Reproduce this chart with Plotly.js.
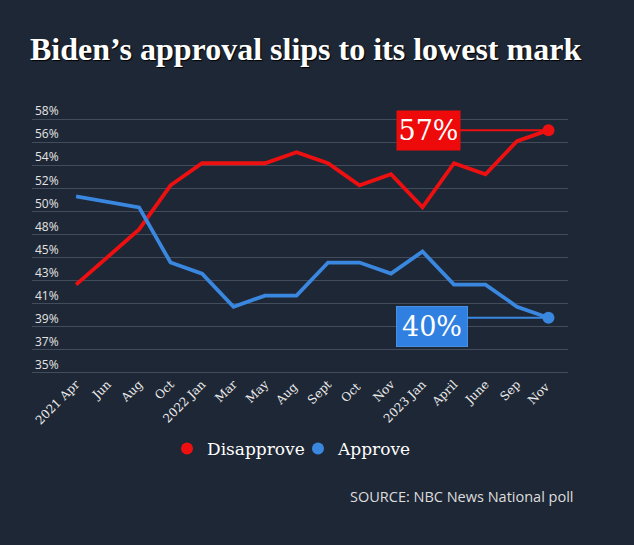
<!DOCTYPE html>
<html><head><meta charset="utf-8">
<script src="https://cdn.plot.ly/plotly-3.0.1.min.js"></script>
<style>html,body{margin:0;padding:0;background:#1e2735;}</style>
</head><body><div id="chart" style="width:634px;height:545px;"></div>
<script>
const months = ["2021 Apr","Jun","Aug","Oct","2022 Jan","Mar","May","Aug ","Sept","Oct ","Nov","2023 Jan","April","June","Sep","Nov "];
const disapprove = [43,45.5,48,52,54,54,54,55,54,52,53,50,54,53,56,57];
const approve = [51,50.5,50,45,44,41,42,42,45,45,44,46,43,43,41,40];
const yMin = 35, yMax = 58, nTicks = 12;
const yTickLabels = ["35%","37%","39%","41%","43%","45%","48%","50%","52%","54%","56%","58%"];
const tickVals = yTickLabels.map((_, i) => yMin + i * (yMax - yMin) / (nTicks - 1));
const lastIdx = months.length - 1;

const RED = '#ee1010', BLUE = '#3a87e0';
const serif = 'DejaVu Serif, serif';
const sans = 'Open Sans, sans-serif';

const traces = [
  {x: months, y: disapprove, mode: 'lines', line: {color: RED, width: 3.8}, showlegend: false, hoverinfo: 'skip'},
  {x: months, y: approve, mode: 'lines', line: {color: BLUE, width: 3.8}, showlegend: false, hoverinfo: 'skip'},
  {x: [months[lastIdx]], y: [disapprove[lastIdx]], mode: 'markers', name: 'Disapprove', marker: {color: RED, size: 12}, cliponaxis: false},
  {x: [months[lastIdx]], y: [approve[lastIdx]], mode: 'markers', name: 'Approve', marker: {color: BLUE, size: 12}, cliponaxis: false}
];

const layout = {
  width: 634, height: 545,
  paper_bgcolor: '#1e2735', plot_bgcolor: '#1e2735',
  margin: {l: 32, r: 66, t: 118, b: 171},
  title: {text: 'Biden\u2019s approval slips to its lowest mark', x: 30/634, xanchor: 'left', xref: 'container', y: 1 - 49/545, yanchor: 'middle', yref: 'container',
    font: {family: 'Liberation Serif, serif', size: 32, color: '#ffffff', weight: 'bold', shadow: '1px 1px 1px #000'}},
  xaxis: {type: 'category', range: [-1.4, 15.62], showgrid: false, zeroline: false, showline: false, ticks: '', tickangle: -45, automargin: false,
    tickfont: {family: serif, size: 12, color: '#ececec'}, fixedrange: true},
  yaxis: {range: [yMin - 0.1, yMax + 0.1], tickvals: tickVals, ticktext: yTickLabels, ticklabelposition: 'inside', ticklabelshift: -8, ticklabelstandoff: 0,
    ticklabeloverflow: 'allow', automargin: false,
    showgrid: true, gridcolor: '#434c5a', gridwidth: 1, zeroline: false, showline: false, ticks: '',
    tickfont: {family: sans, size: 12, color: '#e4e4e4'}, fixedrange: true},
  showlegend: true,
  legend: {orientation: 'h', xref: 'container', yref: 'container', x: 167/634, xanchor: 'left', y: 1 - 449/545, yanchor: 'middle',
    entrywidth: 86, entrywidthmode: 'pixels',
    font: {family: serif, size: 17, color: '#ffffff'}, itemclick: false, bgcolor: 'rgba(0,0,0,0)'},
  shapes: [
    {type: 'line', xref: 'x', yref: 'y', x0: 12.17, x1: lastIdx, y0: disapprove[lastIdx], y1: disapprove[lastIdx], line: {color: RED, width: 2}},
    {type: 'line', xref: 'x', yref: 'y', x0: 12.44, x1: lastIdx, y0: approve[lastIdx], y1: approve[lastIdx], line: {color: BLUE, width: 2}}
  ],
  annotations: [
    {xref: 'x', yref: 'y', x: 11.18, y: 57, text: '57%', showarrow: false, bgcolor: '#ee0a0a', borderpad: 3, width: 57, height: 33,
      font: {family: serif, size: 27, color: '#ffffff'}},
    {xref: 'x', yref: 'y', x: 11.31, y: 39.2, text: '40%', showarrow: false, bgcolor: '#2f80e0', bordercolor: '#4a90e2', borderwidth: 1, borderpad: 3, width: 64, height: 33,
      font: {family: serif, size: 27, color: '#ffffff'}},
    {xref: 'paper', yref: 'paper', x: (576-32)/(634-32-66), xanchor: 'right', y: -(497-374.4)/256, yanchor: 'middle',
      text: 'SOURCE: NBC News National poll', showarrow: false, font: {family: sans, size: 14.5, color: '#dddddd'}}
  ]
};

Plotly.newPlot('chart', traces, layout, {displayModeBar: false, staticPlot: true});
</script></body></html>
